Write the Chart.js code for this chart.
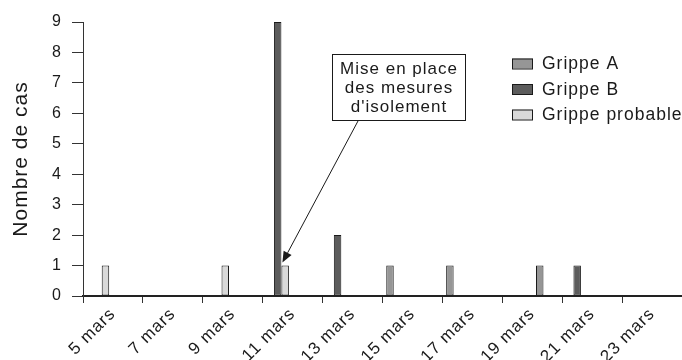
<!DOCTYPE html>
<html>
<head>
<meta charset="utf-8">
<script src="https://cdn.jsdelivr.net/npm/chart.js@4/dist/chart.umd.min.js"></script>
<style>
  html, body { margin: 0; padding: 0; background: #fff; }
  #wrap { width: 682px; height: 360px; }
</style>
</head>
<body>
<div id="wrap"><canvas id="chart"></canvas></div>
<script>
  // one category per day, 5 to 24 mars
  const days = ["5 mars", "6 mars", "7 mars", "8 mars", "9 mars", "10 mars", "11 mars", "12 mars", "13 mars", "14 mars",
                "15 mars", "16 mars", "17 mars", "18 mars", "19 mars", "20 mars", "21 mars", "22 mars", "23 mars", "24 mars"];
  // axis labels, one every 2 days
  const tickLabels = ["5 mars", "7 mars", "9 mars", "11 mars", "13 mars", "15 mars", "17 mars", "19 mars", "21 mars", "23 mars"];

  const grippeA        = [0, 0, 0, 0, 0, 0, 0, 0, 0, 0, 1, 0, 1, 0, 0, 1, 0, 0, 0];
  const grippeB        = [0, 0, 0, 0, 0, 0, 9, 0, 2, 0, 0, 0, 0, 0, 0, 0, 1, 0, 0];
  const grippeProbable = [1, 0, 0, 0, 1, 0, 1, 0, 0, 0, 0, 0, 0, 0, 0, 0, 0, 0, 0];

  const yTicks = [0, 1, 2, 3, 4, 5, 6, 7, 8, 9];

  const noteLines = ["Mise en place", "des mesures", "d'isolement"];
  const noteDay = 6; // arrow points at "Grippe probable" on 11 mars

  const font = "'Liberation Sans', Arial, sans-serif";
  const ink = '#1a1a1a';
  const spacing = '1px'; // the original type is set loose

  const colors = ['#969696', '#5c5c5c', '#d9d9d9'];

  const tracking = {
    id: 'tracking',
    beforeLayout(chart) { chart.ctx.letterSpacing = spacing; },
    beforeDraw(chart) { chart.ctx.letterSpacing = spacing; }
  };

  // legend + annotation drawn on top
  const extras = {
    id: 'extras',
    afterDraw(chart) {
      const ctx = chart.ctx;
      ctx.save();
      ctx.letterSpacing = spacing;

      // legend
      ctx.font = `17.5px ${font}`;
      ctx.textBaseline = 'middle';
      chart.data.datasets.forEach((ds, i) => {
        const y = 63.5 + i * 25.5;
        ctx.fillStyle = ds.backgroundColor;
        ctx.fillRect(512, y - 5, 21, 10);
        ctx.strokeStyle = ink;
        ctx.lineWidth = 1;
        ctx.strokeRect(512.5, y - 4.5, 20, 10);
        ctx.fillStyle = ink;
        ctx.fillText(ds.label, 542, y + 1);
      });

      // annotation box
      const bx = 332, by = 54, bw = 133, bh = 66;
      ctx.fillStyle = '#fff';
      ctx.fillRect(bx, by, bw, bh);
      ctx.strokeStyle = ink;
      ctx.strokeRect(bx + 0.5, by + 0.5, bw, bh);
      ctx.fillStyle = ink;
      ctx.textAlign = 'center';
      ctx.font = `17px ${font}`;
      noteLines.forEach((t, i) => ctx.fillText(t, bx + bw / 2 + 0.5, by + 15 + i * 19));

      // arrow to the bar
      const bar = chart.getDatasetMeta(2).data[noteDay];
      const tx = bar.x - bar.width / 2 + 1, ty = bar.y - 3;
      const sx = 358, sy = by + bh + 1;
      const ang = Math.atan2(ty - sy, tx - sx);
      const hl = 11, hw = 4.5;
      const hx = tx - hl * Math.cos(ang), hy = ty - hl * Math.sin(ang);
      ctx.beginPath();
      ctx.moveTo(sx, sy);
      ctx.lineTo(hx, hy);
      ctx.lineWidth = 1;
      ctx.stroke();
      ctx.beginPath();
      ctx.moveTo(tx, ty);
      ctx.lineTo(hx + hw * Math.sin(ang), hy - hw * Math.cos(ang));
      ctx.lineTo(hx - hw * Math.sin(ang), hy + hw * Math.cos(ang));
      ctx.closePath();
      ctx.fill();

      ctx.restore();
    }
  };

  const mkSet = (label, data, i) => ({
    label,
    data,
    backgroundColor: colors[i],
    borderColor: ink,
    borderWidth: 1,
    borderSkipped: false,
    categoryPercentage: 0.75,
    barPercentage: 1
  });

  new Chart(document.getElementById('chart'), {
    type: 'bar',
    data: {
      labels: days,
      datasets: [
        mkSet('Grippe A', grippeA, 0),
        mkSet('Grippe B', grippeB, 1),
        mkSet('Grippe probable', grippeProbable, 2)
      ]
    },
    options: {
      responsive: true,
      maintainAspectRatio: false,
      animation: false,
      layout: { padding: { top: 22, right: 0, left: 0, bottom: 0 } },
      plugins: {
        legend: { display: false },
        tooltip: { enabled: false }
      },
      scales: {
        x: {
          display: false,
          offset: true
        },
        x2: {
          type: 'category',
          labels: tickLabels,
          position: 'bottom',
          offset: true,
          grid: { display: true, drawOnChartArea: false, offset: true, tickLength: 7, color: '#333' },
          border: { color: '#222', width: 2 },
          ticks: { color: ink, font: { family: font, size: 17 }, maxRotation: 45, minRotation: 45, padding: 1, autoSkip: false },
          afterFit: s => { s.height = 64; }
        },
        y: {
          min: 0,
          max: 9,
          afterBuildTicks: s => { s.ticks = yTicks.map(v => ({ value: v })); },
          grid: { display: true, drawOnChartArea: false, tickLength: 11, color: '#333' },
          border: { color: '#333' },
          ticks: { color: ink, font: { family: font, size: 16 }, padding: 10 },
          title: { display: true, text: 'Nombre de cas', color: ink, font: { family: font, size: 21 }, padding: { top: 9, bottom: 0 } },
          afterFit: s => { s.width = 83; }
        }
      }
    },
    plugins: [tracking, extras]
  });
</script>
</body>
</html>
